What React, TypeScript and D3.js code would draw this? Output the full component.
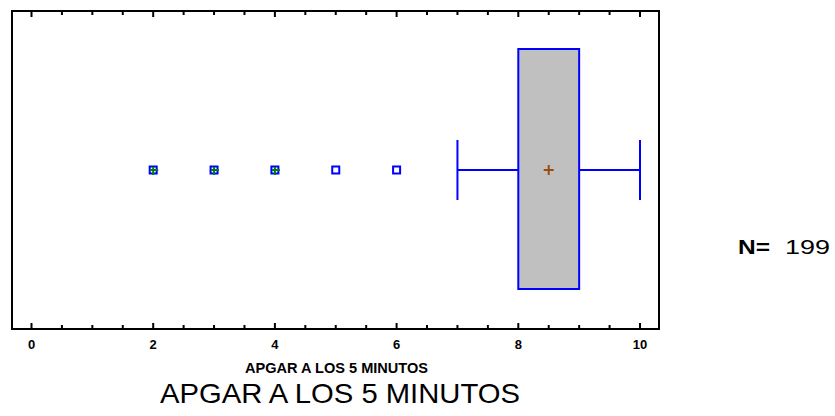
import React, { useEffect, useRef } from "react";
import * as d3 from "d3";

// box plot summary (APGAR at 5 minutes)
const boxStats = { min: 7, q1: 8, median: 9, q3: 9, max: 10, mean: 8.5 };
const outliers = [2, 3, 4, 5, 6];
const farOutliers = [2, 3, 4];
const xTicks = [0, 2, 4, 6, 8, 10];
const axisTitle = "APGAR A LOS 5 MINUTOS";
const chartTitle = "APGAR A LOS 5 MINUTOS";
const sampleSize = 199;

const App = () => {
  const ref = useRef<SVGSVGElement>(null);

  useEffect(() => {
    const svg = d3.select(ref.current);
    svg.selectAll("*").remove();

    const left = 12, right = 659, top = 11, bottom = 329;
    const x = d3.scaleLinear().domain([0, 10]).range([31.5, 640]);
    const yMid = 170;
    const font = "'Liberation Sans', Arial, sans-serif";

    // frame
    svg.append("rect")
      .attr("x", left).attr("y", top)
      .attr("width", right - left).attr("height", bottom - top)
      .attr("fill", "none").attr("stroke", "#000").attr("stroke-width", 2);

    // ticks (inward, top and bottom)
    const minor = d3.range(0, 10.01, 0.5);
    minor.forEach((v) => {
      const len = v % 2 === 0 ? 6 : 4;
      svg.append("line").attr("x1", x(v)).attr("x2", x(v))
        .attr("y1", bottom).attr("y2", bottom - len)
        .attr("stroke", "#000").attr("stroke-width", 2);
      svg.append("line").attr("x1", x(v)).attr("x2", x(v))
        .attr("y1", top).attr("y2", top + len)
        .attr("stroke", "#000").attr("stroke-width", 2);
    });

    svg.selectAll("text.tick")
      .data(xTicks)
      .enter()
      .append("text")
      .attr("class", "tick")
      .attr("x", (d) => x(d))
      .attr("y", 349)
      .attr("text-anchor", "middle")
      .style("font-family", font)
      .style("font-weight", "bold")
      .style("font-size", "13px")
      .text((d) => d);

    svg.append("text")
      .attr("x", 245).attr("y", 373)
      .attr("textLength", 183)
      .attr("lengthAdjust", "spacingAndGlyphs")
      .style("font-family", "'Liberation Sans Narrow', 'Liberation Sans', Arial, sans-serif")
      .style("font-weight", "bold")
      .style("font-size", "15px")
      .text(axisTitle);

    svg.append("text")
      .attr("x", 160).attr("y", 403)
      .attr("textLength", 360)
      .attr("lengthAdjust", "spacingAndGlyphs")
      .style("font-family", font)
      .style("font-size", "28px")
      .text(chartTitle);

    // sample size
    svg.append("text")
      .attr("x", 738).attr("y", 254)
      .attr("textLength", 32)
      .attr("lengthAdjust", "spacingAndGlyphs")
      .style("font-family", font)
      .style("font-weight", "bold")
      .style("font-size", "21px")
      .text("N=");
    svg.append("text")
      .attr("x", 785).attr("y", 254)
      .attr("textLength", 45)
      .attr("lengthAdjust", "spacingAndGlyphs")
      .style("font-family", font)
      .style("font-size", "21px")
      .text(sampleSize);

    const blue = "#0000ff";
    // whiskers
    svg.append("line").attr("x1", x(boxStats.min)).attr("x2", x(boxStats.q1))
      .attr("y1", yMid).attr("y2", yMid).attr("stroke", blue).attr("stroke-width", 2);
    svg.append("line").attr("x1", x(boxStats.q3)).attr("x2", x(boxStats.max))
      .attr("y1", yMid).attr("y2", yMid).attr("stroke", blue).attr("stroke-width", 2);
    [boxStats.min, boxStats.max].forEach((v) => {
      svg.append("line").attr("x1", x(v)).attr("x2", x(v))
        .attr("y1", 140).attr("y2", 200).attr("stroke", blue).attr("stroke-width", 2);
    });

    // box
    svg.append("rect")
      .attr("x", x(boxStats.q1)).attr("y", 49)
      .attr("width", x(boxStats.q3) - x(boxStats.q1)).attr("height", 240)
      .attr("fill", "#c0c0c0").attr("stroke", blue).attr("stroke-width", 2);

    // mean marker
    const mx = x(boxStats.mean);
    svg.append("path")
      .attr("d", `M${mx - 5},${yMid}H${mx + 5}M${mx},${yMid - 5}V${yMid + 5}`)
      .attr("stroke", "#9a4c0e").attr("stroke-width", 2);

    // outliers
    svg.selectAll("rect.out")
      .data(outliers)
      .enter()
      .append("rect")
      .attr("class", "out")
      .attr("x", (d) => x(d) - 3.5).attr("y", yMid - 3.5)
      .attr("width", 7).attr("height", 7)
      .attr("fill", "none").attr("stroke", blue).attr("stroke-width", 2);

    svg.selectAll("path.far")
      .data(farOutliers)
      .enter()
      .append("path")
      .attr("class", "far")
      .attr("d", (d) => `M${x(d) - 3},${yMid}H${x(d) + 5}M${x(d)},${yMid - 3}V${yMid + 5}`)
      .attr("stroke", "#008000").attr("stroke-width", 2);
  }, []);

  return <svg ref={ref} width={835} height={416} style={{ position: "absolute", left: 0, top: 0 }} />;
};

export default App;
